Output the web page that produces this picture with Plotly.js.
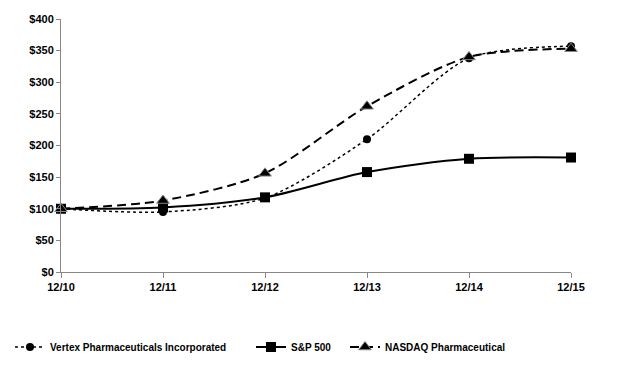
<!DOCTYPE html>
<html><head><meta charset="utf-8">
<script src="https://cdn.plot.ly/plotly-3.0.1.min.js"></script>
<style>body{margin:0;background:#fff}#chart{width:622px;height:368px}</style>
</head><body><div id="chart"></div>
<script>
var categories = ["12/10","12/11","12/12","12/13","12/14","12/15"];
var vertex = [100, 95, 117, 210, 338, 357];
var sp500 = [100, 102, 118, 158, 179, 181];
var nasdaq = [100, 113, 156, 262, 340, 353];
var yTicks = [0,50,100,150,200,250,300,350,400];
var yTickText = yTicks.map(function(v){return "$"+v;});
var xs = categories.map(function(c,i){return i;});

var fam = "Liberation Sans, Arial, sans-serif";
var legFont = {family:fam, size:10, color:"#000", weight:"bold"};
var traces = [
 {x:xs, y:vertex, name:"Vertex Pharmaceuticals Incorporated", mode:"lines+markers", legend:"legend",
  line:{color:"#000", width:1.5, dash:"dot", shape:"spline", smoothing:0.8},
  marker:{symbol:"circle", size:8, color:"#000"}, cliponaxis:false},
 {x:xs, y:sp500, name:"S&P 500", mode:"lines+markers", legend:"legend2",
  line:{color:"#000", width:2, shape:"spline", smoothing:0.8},
  marker:{symbol:"square", size:10, color:"#000"}, cliponaxis:false},
 {x:xs, y:nasdaq, name:"NASDAQ Pharmaceutical", mode:"lines+markers", legend:"legend3",
  line:{color:"#000", width:2, dash:"9px,5px", shape:"spline", smoothing:0.8},
  marker:{symbol:"triangle-up", size:11, color:"#000", line:{color:"#888", width:1}}, cliponaxis:false}
];
function leg(xpx){
  return {orientation:"h", x:(xpx-61)/510, xanchor:"left", y:(272-347)/253, yanchor:"middle",
    font:legFont, bgcolor:"rgba(0,0,0,0)"};
}
var layout = {
 width:622, height:368,
 margin:{l:61, r:51, t:19, b:96, autoexpand:false},
 paper_bgcolor:"#fff", plot_bgcolor:"#fff",
 font:{family:fam, size:11, color:"#000"},
 showlegend:true,
 legend:leg(10), legend2:leg(251), legend3:leg(345),
 xaxis:{range:[0,5], tickvals:xs, ticktext:categories, showgrid:false, zeroline:false,
   showline:true, linecolor:"#888", linewidth:1, ticks:"outside", ticklen:5, tickcolor:"#888",
   tickfont:{family:fam, size:11, color:"#000", weight:"bold"}, fixedrange:true},
 yaxis:{range:[0,400], tickvals:yTicks, ticktext:yTickText, showgrid:false, zeroline:false,
   showline:true, linecolor:"#888", linewidth:1, ticks:"outside", ticklen:4, tickcolor:"#888",
   tickfont:{family:fam, size:11, color:"#000", weight:"bold"}, fixedrange:true}
};
Plotly.newPlot("chart", traces, layout, {displayModeBar:false, staticPlot:true});
</script></body></html>
